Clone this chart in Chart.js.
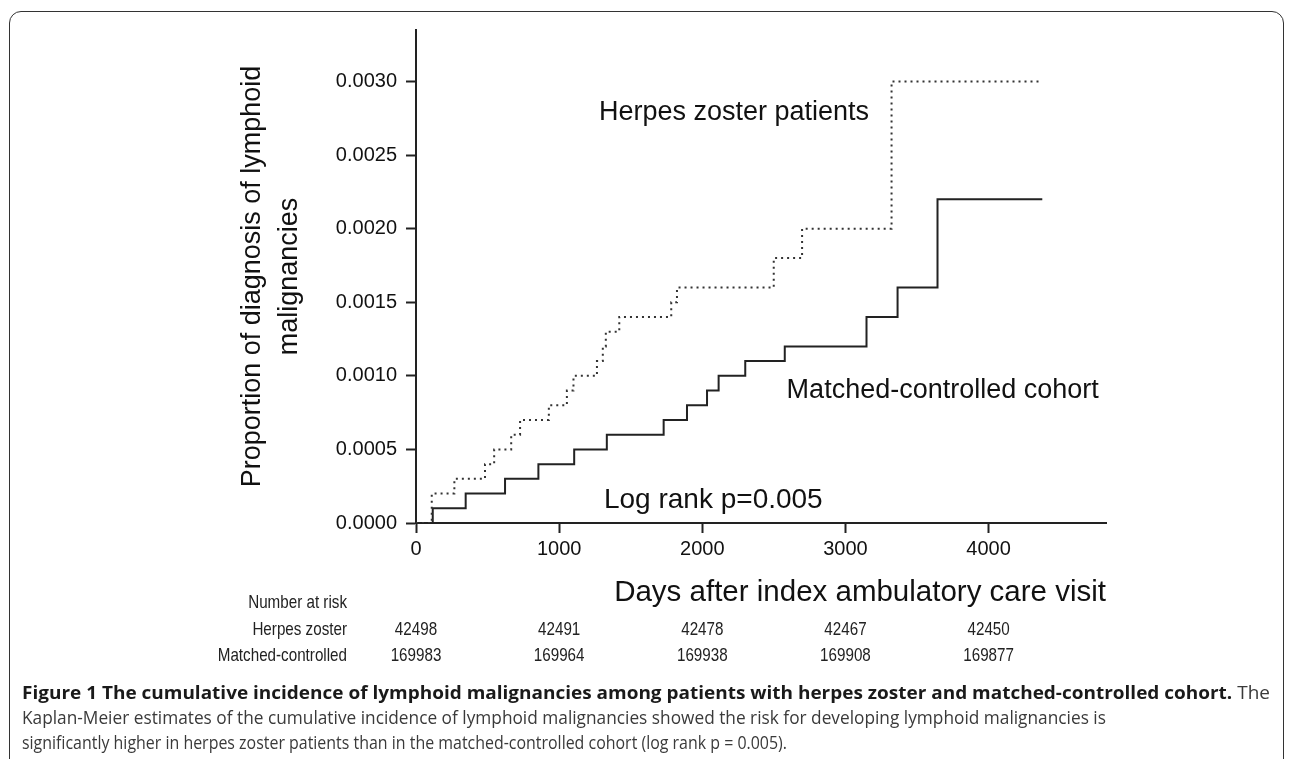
<!DOCTYPE html>
<html>
<head>
<meta charset="utf-8">
<script src="https://cdn.jsdelivr.net/npm/chart.js@4.4.0/dist/chart.umd.min.js"></script>
<style>
  html, body { margin: 0; padding: 0; background: #fff; }
  #wrap { position: relative; width: 1292px; height: 759px; overflow: hidden; }
  #frame { position: absolute; left: 9px; top: 11px; width: 1275px; height: 790px;
           border: 1.5px solid #333; border-radius: 12px; box-sizing: border-box; }
  #plot { position: absolute; left: 0; top: 0; }
  .cap { position: absolute; left: 22px; height: 25px; line-height: 25px;
         font-family: "Open Sans", sans-serif; font-size: 18px; color: #3a3a3a;
         white-space: nowrap; transform-origin: left center; }
  .cap b { color: #1a1a1a; }
</style>
</head>
<body>
<div id="wrap">
  <div id="frame"></div>
  <canvas id="plot" width="1292" height="759"></canvas>
  <div class="cap" id="cap1" style="top:680px"><b>Figure 1 The cumulative incidence of lymphoid malignancies among patients with herpes zoster and matched-controlled cohort.</b> The</div>
  <div class="cap" id="cap2" style="top:705px">Kaplan-Meier estimates of the cumulative incidence of lymphoid malignancies showed the risk for developing lymphoid malignancies is</div>
  <div class="cap" id="cap3" style="top:730px">significantly higher in herpes zoster patients than in the matched-controlled cohort (log rank p = 0.005).</div>
</div>
<script>
// step points (days, cumulative proportion)
const herpesDays = [0, 110, 268, 482, 546, 665, 727, 928, 1054, 1100, 1264, 1305, 1326, 1420, 1783, 1823, 2499, 2697, 3322, 4365];
const herpesProp = [0, 0.0002, 0.0003, 0.0004, 0.0005, 0.0006, 0.0007, 0.0008, 0.0009, 0.0010, 0.0011, 0.0012, 0.0013, 0.0014, 0.0015, 0.0016, 0.0018, 0.0020, 0.0030, 0.0030];

const controlDays = [0, 117, 347, 622, 855, 1105, 1333, 1730, 1893, 2033, 2114, 2300, 2576, 3147, 3364, 3643, 4375];
const controlProp = [0, 0.0001, 0.0002, 0.0003, 0.0004, 0.0005, 0.0006, 0.0007, 0.0008, 0.0009, 0.0010, 0.0011, 0.0012, 0.0014, 0.0016, 0.0022, 0.0022];

const xTicks = [0, 1000, 2000, 3000, 4000];
const yTicks = [0, 0.0005, 0.0010, 0.0015, 0.0020, 0.0025, 0.0030];

// number at risk table
const riskTimes = [0, 1000, 2000, 3000, 4000];
const riskHerpes = [42498, 42491, 42478, 42467, 42450];
const riskControl = [169983, 169964, 169938, 169908, 169877];

const FONT = "'Liberation Sans', Arial, sans-serif";

const toPoints = (days, prop) => days.map((d, i) => ({ x: d, y: prop[i] }));

// narrow text: the table in the figure uses a condensed face
const narrowText = (ctx, txt, x, y) => {
  ctx.fillText(txt, x, y, ctx.measureText(txt).width * 0.8);
};

// labels inside the plot + number at risk rows
const textPlugin = {
  id: "kmText",
  afterDraw(chart) {
    const { ctx, scales: { x, y } } = chart;
    ctx.save();
    ctx.fillStyle = "#111";
    ctx.textBaseline = "alphabetic";
    ctx.textAlign = "left";
    ctx.font = "27px " + FONT;
    ctx.fillText("Herpes zoster patients", x.getPixelForValue(1278), y.getPixelForValue(0.00274));
    ctx.fillText("Matched-controlled cohort", x.getPixelForValue(2589), y.getPixelForValue(0.000847));
    ctx.font = "28px " + FONT;
    ctx.fillText("Log rank p=0.005", x.getPixelForValue(1313), y.getPixelForValue(0.0001));

    ctx.font = "19px " + FONT;
    ctx.fillStyle = "#222";
    ctx.textBaseline = "middle";
    ctx.textAlign = "right";
    const labelRight = 347;
    narrowText(ctx, "Number at risk", labelRight, 603);
    narrowText(ctx, "Herpes zoster", labelRight, 630);
    narrowText(ctx, "Matched-controlled", labelRight, 656);
    ctx.textAlign = "center";
    riskTimes.forEach((t, i) => {
      const px = x.getPixelForValue(t);
      narrowText(ctx, String(riskHerpes[i]), px, 630);
      narrowText(ctx, String(riskControl[i]), px, 656);
    });
    ctx.restore();
  }
};

new Chart(document.getElementById("plot"), {
  type: "line",
  data: {
    datasets: [
      {
        label: "Herpes zoster patients",
        data: toPoints(herpesDays, herpesProp),
        stepped: "before",
        borderColor: "#333",
        borderWidth: 2,
        borderDash: [2, 4],
        pointRadius: 0,
        fill: false
      },
      {
        label: "Matched-controlled cohort",
        data: toPoints(controlDays, controlProp),
        stepped: "before",
        borderColor: "#222",
        borderWidth: 2,
        pointRadius: 0,
        fill: false
      }
    ]
  },
  options: {
    responsive: false,
    animation: false,
    layout: { padding: { top: 30, right: 186, bottom: 146, left: 0 } },
    plugins: { legend: { display: false }, tooltip: { enabled: false } },
    scales: {
      x: {
        type: "linear",
        min: 0,
        max: 4820,
        afterFit: (s) => { s.height = 90; },
        afterBuildTicks: (s) => { s.ticks = xTicks.map((v) => ({ value: v })); },
        border: { display: true, color: "#222", width: 2 },
        grid: { drawOnChartArea: false, drawTicks: true, tickLength: 10, tickWidth: 2, tickColor: "#222" },
        ticks: {
          font: { family: FONT, size: 20 },
          color: "#111",
          padding: 4,
          maxRotation: 0,
          callback: (v) => String(v)
        },
        title: {
          display: true,
          text: "Days after index ambulatory care visit",
          align: "end",
          color: "#111",
          font: { family: FONT, size: 29.5 },
          padding: { top: 0, bottom: 2 }
        }
      },
      y: {
        type: "linear",
        min: 0,
        max: 0.00335,
        afterFit: (s) => { s.width = 416; },
        afterBuildTicks: (s) => { s.ticks = yTicks.map((v) => ({ value: v })); },
        border: { display: true, color: "#222", width: 2 },
        grid: { drawOnChartArea: false, drawTicks: true, tickLength: 10, tickWidth: 2, tickColor: "#222" },
        ticks: {
          font: { family: FONT, size: 20 },
          color: "#111",
          padding: 9,
          callback: (v) => Number(v).toFixed(4)
        },
        title: {
          display: true,
          text: ["Proportion of diagnosis of lymphoid", "malignancies"],
          color: "#111",
          font: { family: FONT, size: 27, lineHeight: 1.36 },
          padding: { top: 234, bottom: 0 }
        }
      }
    }
  },
  plugins: [textPlugin]
});

// squeeze the caption lines to the widths they take in the figure
const capWidths = { cap1: 1248, cap2: 1084, cap3: 765 };
Object.keys(capWidths).forEach((id) => {
  const el = document.getElementById(id);
  const w = el.getBoundingClientRect().width;
  el.style.transform = "scaleX(" + (capWidths[id] / w).toFixed(4) + ")";
});
</script>
</body>
</html>
